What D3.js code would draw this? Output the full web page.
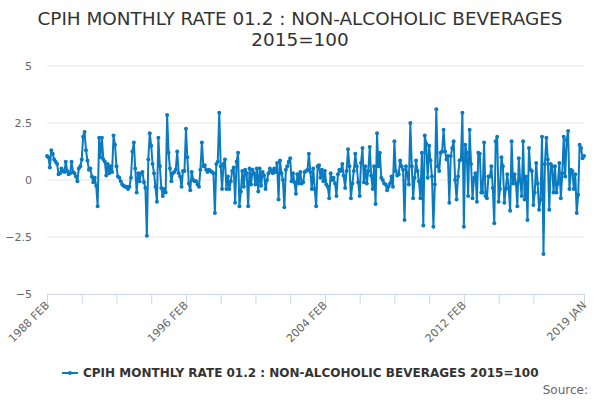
<!DOCTYPE html>
<html>
<head>
<meta charset="utf-8">
<script src="https://cdn.jsdelivr.net/npm/d3@7"></script>
<style>
  body { margin: 0; background: #fff; }
  text { font-family: "DejaVu Sans", sans-serif; }
</style>
</head>
<body>
<div id="canvas"></div>
<script>
"use strict"

/* chart data */
let firstMonth = new Date(1988, 1, 1);   // 1988 FEB
let yTicks = [-5, -2.5, 0, 2.5, 5];
let tickLabels = ["1988 FEB", "1996 FEB", "2004 FEB", "2012 FEB", "2019 JAN"];
let seriesName = "CPIH MONTHLY RATE 01.2 : NON-ALCOHOLIC BEVERAGES 2015=100";

/* monthly rate, 1988 FEB .. 2019 JAN */
let rates = [
    1.05, 1.0, 0.55, 1.3, 1.15, 0.9, 0.8, 0.7, 0.25, 0.3,
    0.5, 0.4, 0.35, 0.8, 0.4, 0.25, 0.3, 0.8, 0.35, 0.3,
    0.15, -0.05, 0.5, 0.6, 0.9, 1.9, 2.1, 1.3, 0.85, 0.45,
    0.5, 0.15, -0.1, 0.1, -0.25, -1.15, 1.85, 1.0, 1.85, 0.9,
    0.8, 0.2, 0.7,
    0.3, 0.6, 0.35, 1.95, 1.55, 0.6, 0.15, 0.1, -0.05, -0.2,
    -0.25, -0.3, -0.3, -0.4, -0.3, 0.1, 1.25, 1.65, 0.5, -0.55,
    0.3, -0.05, 0.3, 0.35, -0.1, -0.35, -2.45, 0.9, 2.05, 1.5,
    0.7, 0.3, -0.3, -0.95, 1.85, 0.6, -0.35, -0.7, -0.4, -0.55,
    2.85, 1.2, 0.5, -0.05, 0.3, 0.35, 0.45,
    1.25, 0.3, 0.15, -0.3, 0.4, 0.4, 2.25, 1.0, -0.15, -0.45,
    0.35, 0.0, -0.05, -0.05, -0.2, -0.3, 0.45, 1.65, 0.6, 0.65,
    0.45, 0.35, 0.45, 0.4, 0.35, 0.3, -1.45, 0.7, 0.8, 2.95,
    0.6, -0.4, 0.7, 0.9, -0.4, 0.15, -0.4, -0.05, 0.4, 0.55,
    -1.0, 0.8, 1.2, -1.15, -0.5, 0.4, -0.3,
    0.45, 0.3, -1.15, 0.5, -0.2, 0.45, 0.3, -0.2, 0.5, -0.5,
    0.5, -0.25, 0.35, 0.2, -0.4, 0.0, 0.3, 0.5, 0.4, 0.3,
    0.5, 0.35, 0.75, -0.85, 0.85, 0.3, 0.0, -1.2, 0.45, 0.6,
    0.8, 0.95, -0.05, 0.3, -0.1, -0.6, 0.25, -0.15, 0.35, -0.15,
    -0.1, 0.35, 0.4, 0.45, 1.15, 0.35, -0.4, 0.5,
    -0.4, -1.15, 0.6, 0.65, 0.1, 0.45, -0.05, 0.4, -0.2, -0.3,
    -0.8, 0.3, 0.0, 0.1, -0.15, -0.7, 0.25, 0.45, 0.4, 0.7,
    0.2, -0.35, 0.4, 1.35, 0.6, -0.8, -0.15, 0.4, 1.15, 0.6,
    -0.1, -0.7, 0.75, 1.4, -0.1, 0.6, -0.15, 0.4, 1.45, 0.2,
    -0.4, 0.6, -1.05, 2.05, 0.6, 1.2, 0.1, 0.0, -0.15, -0.2,
    -0.45, -0.3, -0.15, 0.15, -0.3,
    1.7, 0.4, 0.2, 0.25, 0.85, 0.6, 0.45, -1.75, 0.6, 0.25,
    -0.2, 2.5, 0.6, -0.8, 0.1, 0.85, 0.4, -0.05, -0.8, 1.2,
    -2.0, 1.95, 1.6, 0.1, 1.5, 0.85, 0.15, -2.05, -0.2, 3.1,
    0.6, 0.4, 1.2, 1.25, 2.2, 1.25, 0.9, 1.05, -1.0,
    1.05, 1.4, 1.7, 0.0, -0.85, 0.15, 0.85, 0.9, 2.95, -2.05,
    1.55, 1.2, -0.7, 2.2, 0.7, -0.8, 0.1, 0.3, -0.95, 1.2,
    1.15, -0.55, -0.55, 1.65, -0.7, -0.8, 0.15, 0.15, 0.6, -0.35,
    -1.9, 1.7, 1.9, -0.95, -0.4, 1.0, 0.6, -1.0, -0.4, 0.25,
    -0.35, -1.35, 1.7, -0.15, 0.25, -0.15, -1.15,
    0.95, -0.05, -0.7, 1.7, -0.85, 0.15, -1.75, 1.4, 0.45, 0.4,
    -1.1, -0.55, 0.75, -0.15, -1.3, -0.85, 1.9,
    -3.25, 0.7, 1.85, 0.9, -1.3, 0.7, 0.6, -0.55, 0.6, -0.55,
    -0.15, 0.75, -0.8, 0.3, 1.9, 0.15, 1.75, 2.15, -0.4, 0.45,
    0.4, -0.4, 0.25, -1.45, -0.65, 1.55, 1.4, 0.95, 1.05
];

/* months for each value */
let months = rates.map((v, i) => d3.timeMonth.offset(firstMonth, i));
let lastMonth = months[months.length - 1];

/* tick every two years, labels every eight years and the last month */
let tickMonths = d3.range(0, 337, 24).map(i => d3.timeMonth.offset(firstMonth, i)).concat([lastMonth]);
let labelMonths = [0, 96, 192, 288].map(i => d3.timeMonth.offset(firstMonth, i)).concat([lastMonth]);

let drawing = d3.select("#canvas")
    .append("svg")
    .attr("width", 600)
    .attr("height", 400);

let x = d3.scaleTime()
    .domain([firstMonth, lastMonth])
    .range([47, 584]);

let y = d3.scaleLinear()
    .domain([-5, 5])
    .range([294, 66]);

/* title */
let title = drawing.append("text")
    .attr("x", 300)
    .attr("y", 25)
    .attr("text-anchor", "middle")
    .attr("font-size", 18.4)
    .attr("fill", "#333333");
title.append("tspan").attr("x", 300).attr("dy", 0).text("CPIH MONTHLY RATE 01.2 : NON-ALCOHOLIC BEVERAGES");
title.append("tspan").attr("x", 300).attr("dy", 21).text("2015=100");

/* grid lines */
drawing.append("g")
    .selectAll("line")
    .data(yTicks.filter(d => d !== -5))
    .join("line")
    .attr("x1", 47)
    .attr("x2", 584)
    .attr("y1", d => y(d))
    .attr("y2", d => y(d))
    .attr("stroke", "#e6e6e6")
    .attr("stroke-width", 1);

/* y labels */
drawing.append("g")
    .selectAll("text")
    .data(yTicks)
    .join("text")
    .attr("x", 32)
    .attr("y", d => y(d) + 4)
    .attr("text-anchor", "end")
    .attr("font-size", 11)
    .attr("fill", "#666666")
    .text(d => d3.format("")(d));

/* x axis */
let xAxis = drawing.append("g")
    .attr("transform", "translate(0,294)")
    .call(d3.axisBottom(x)
        .tickValues(tickMonths)
        .tickSize(10)
        .tickFormat(""));
xAxis.select(".domain").attr("stroke", "#ccd6eb");
xAxis.selectAll(".tick line").attr("stroke", "#ccd6eb");

drawing.append("g")
    .selectAll("text")
    .data(labelMonths)
    .join("text")
    .attr("transform", (d, i) => "translate(" + (x(d) + 3) + ",306) rotate(-45)")
    .attr("text-anchor", "end")
    .attr("font-size", 11)
    .attr("fill", "#666666")
    .text((d, i) => tickLabels[i]);

/* series line */
let line = d3.line()
    .x((d, i) => x(months[i]))
    .y(d => y(d));

drawing.append("path")
    .datum(rates)
    .attr("d", line)
    .attr("fill", "none")
    .attr("stroke", "#0a7bc1")
    .attr("stroke-width", 2)
    .attr("stroke-linejoin", "round");

drawing.append("g")
    .selectAll("circle")
    .data(rates)
    .join("circle")
    .attr("cx", (d, i) => x(months[i]))
    .attr("cy", d => y(d))
    .attr("r", 2)
    .attr("fill", "#0a7bc1");

/* legend */
drawing.append("line")
    .attr("x1", 62)
    .attr("x2", 78)
    .attr("y1", 373)
    .attr("y2", 373)
    .attr("stroke", "#0a7bc1")
    .attr("stroke-width", 2);
drawing.append("circle")
    .attr("cx", 70)
    .attr("cy", 373)
    .attr("r", 2)
    .attr("fill", "#0a7bc1");
drawing.append("text")
    .attr("x", 83)
    .attr("y", 377)
    .attr("font-size", 12)
    .attr("font-weight", "bold")
    .attr("fill", "#333333")
    .text(seriesName);

/* source */
drawing.append("text")
    .attr("x", 588)
    .attr("y", 394)
    .attr("text-anchor", "end")
    .attr("font-size", 12)
    .attr("fill", "#666666")
    .text("Source:");
</script>
</body>
</html>
